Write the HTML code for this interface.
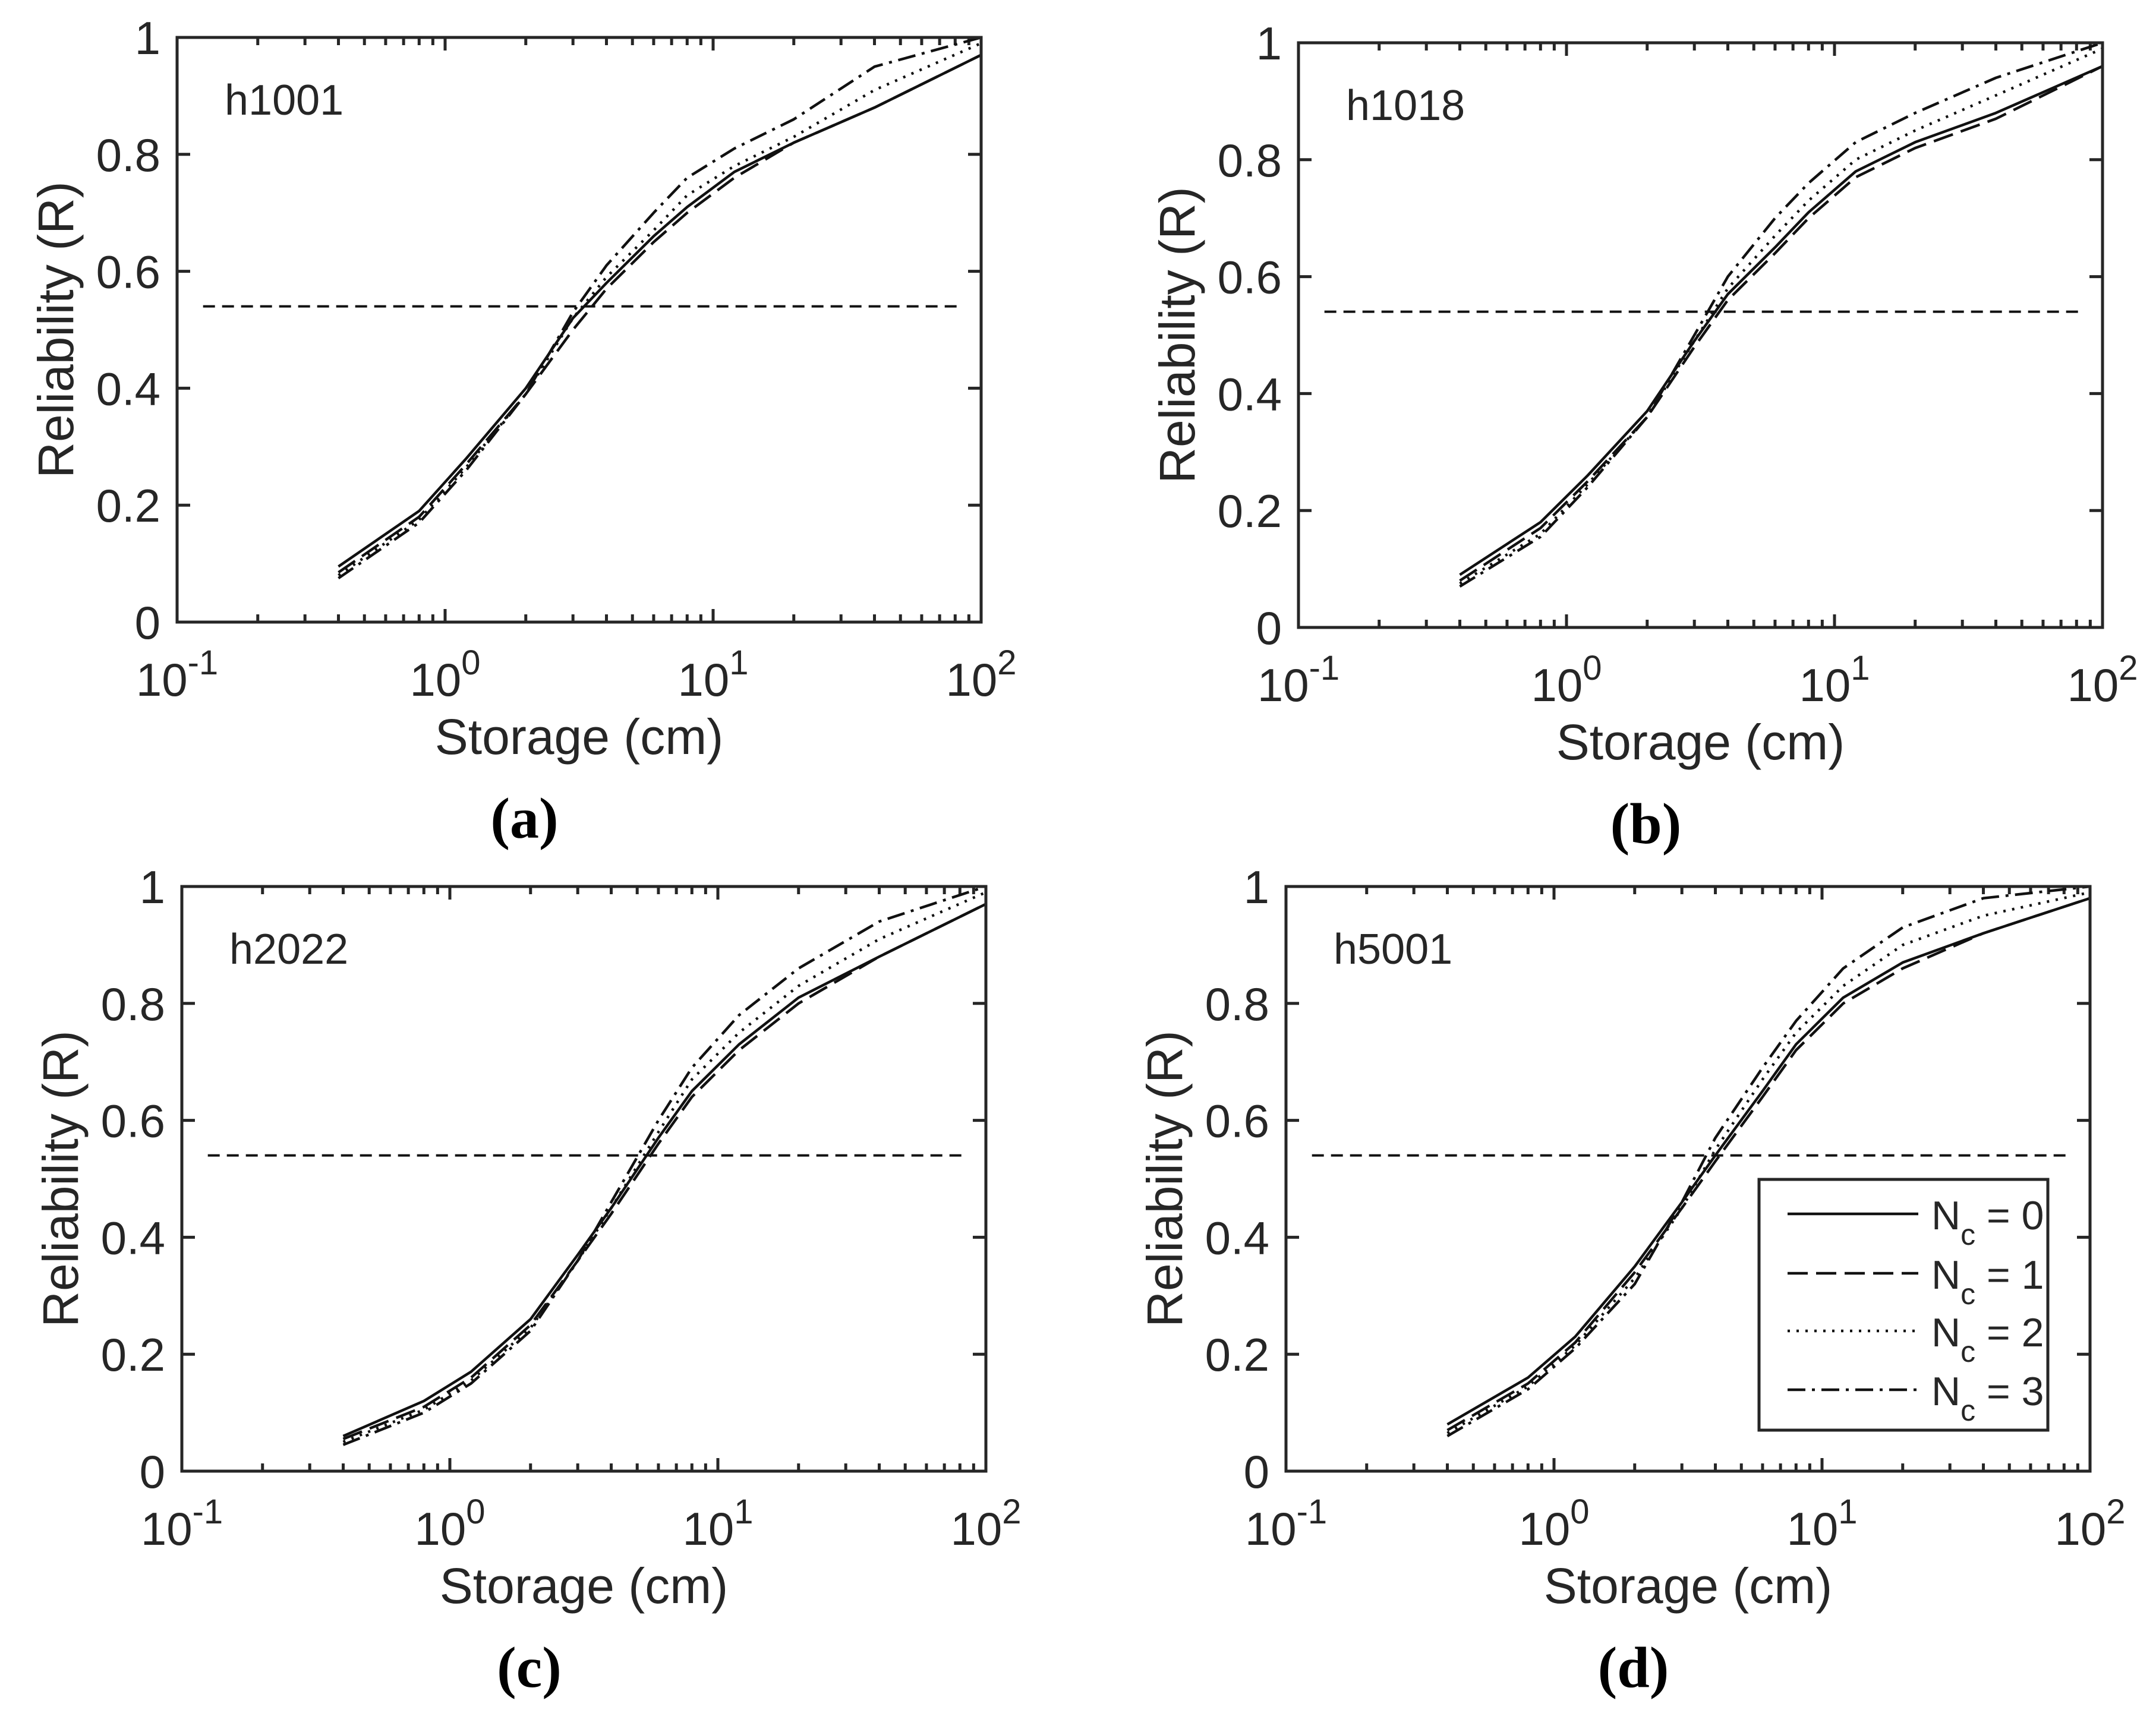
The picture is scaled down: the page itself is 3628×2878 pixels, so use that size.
<!DOCTYPE html>
<html><head><meta charset="utf-8"><style>
html,body{margin:0;padding:0;background:#fff;}
svg{display:block;}
text{font-family:"Liberation Sans",sans-serif;fill:#262626;}
</style></head>
<body>
<svg id="fig" width="3628" height="2878" viewBox="0 0 3628 2878" xmlns="http://www.w3.org/2000/svg"></svg>
<script>
const xVals = [0.4, 0.8, 1.2, 2, 3, 4, 6, 8, 12, 20, 40, 100];
const panelNames = ['h1001', 'h1018', 'h2022', 'h5001'];
const panelLetters = ['(a)', '(b)', '(c)', '(d)'];
const seriesNames = ['Nc = 0', 'Nc = 1', 'Nc = 2', 'Nc = 3'];
const yTicks = [0, 0.2, 0.4, 0.6, 0.8, 1];
const yTickLabels = ['0', '0.2', '0.4', '0.6', '0.8', '1'];
const xTickExps = [-1, 0, 1, 2];
const threshold = 0.54;
const thresholdRange = [0.125, 82];
// panel a
const aNc0 = [0.095, 0.19, 0.28, 0.40, 0.52, 0.58, 0.66, 0.71, 0.77, 0.82, 0.88, 0.97];
const aNc1 = [0.085, 0.18, 0.27, 0.39, 0.50, 0.57, 0.65, 0.70, 0.76, 0.82, 0.88, 0.97];
const aNc2 = [0.08, 0.175, 0.265, 0.39, 0.52, 0.59, 0.67, 0.73, 0.78, 0.83, 0.91, 0.99];
const aNc3 = [0.075, 0.17, 0.26, 0.39, 0.53, 0.61, 0.70, 0.76, 0.81, 0.86, 0.95, 1.0];
// panel b
const bNc0 = [0.09, 0.18, 0.26, 0.37, 0.49, 0.57, 0.65, 0.71, 0.78, 0.83, 0.88, 0.96];
const bNc1 = [0.08, 0.17, 0.25, 0.36, 0.48, 0.56, 0.64, 0.70, 0.77, 0.82, 0.87, 0.96];
const bNc2 = [0.075, 0.16, 0.245, 0.36, 0.49, 0.58, 0.67, 0.73, 0.80, 0.85, 0.91, 0.99];
const bNc3 = [0.07, 0.155, 0.24, 0.36, 0.50, 0.60, 0.70, 0.76, 0.83, 0.88, 0.94, 1.0];
// panel c
const cNc0 = [0.06, 0.12, 0.17, 0.26, 0.37, 0.45, 0.57, 0.65, 0.73, 0.81, 0.88, 0.97];
const cNc1 = [0.055, 0.11, 0.16, 0.25, 0.36, 0.44, 0.56, 0.64, 0.72, 0.80, 0.88, 0.97];
const cNc2 = [0.05, 0.105, 0.155, 0.245, 0.36, 0.45, 0.58, 0.67, 0.75, 0.83, 0.91, 0.99];
const cNc3 = [0.045, 0.10, 0.15, 0.24, 0.36, 0.46, 0.60, 0.69, 0.78, 0.86, 0.94, 1.0];
// panel d
const dNc0 = [0.08, 0.16, 0.23, 0.35, 0.46, 0.54, 0.65, 0.73, 0.81, 0.87, 0.92, 0.98];
const dNc1 = [0.07, 0.15, 0.22, 0.34, 0.45, 0.53, 0.64, 0.72, 0.80, 0.86, 0.92, 0.98];
const dNc2 = [0.065, 0.145, 0.215, 0.33, 0.45, 0.55, 0.67, 0.75, 0.83, 0.90, 0.95, 0.99];
const dNc3 = [0.06, 0.14, 0.21, 0.32, 0.46, 0.57, 0.69, 0.77, 0.86, 0.93, 0.98, 1.0];
const panelData = [[aNc0,aNc1,aNc2,aNc3],[bNc0,bNc1,bNc2,bNc3],[cNc0,cNc1,cNc2,cNc3],[dNc0,dNc1,dNc2,dNc3]];

const NS = 'http://www.w3.org/2000/svg';
const svg = document.getElementById('fig');
const boxes = [[298,63,1353,984],[2185,72,1353,984],[306,1492,1353,984],[2164,1492,1353,984]];
const dashes = ['none', '34 14', '4 11', '30 11 5 11'];

function mk(tag, attrs, parent) {
  const e = document.createElementNS(NS, tag);
  for (const k in attrs) e.setAttribute(k, attrs[k]);
  (parent || svg).appendChild(e);
  return e;
}

panelData.forEach((series, p) => {
  const [L, T, W, H] = boxes[p];
  const sx = v => L + (Math.log10(v) + 1) / 3 * W;
  const sy = v => T + H - v * H;
  const g = mk('g', {});
  
  

  for (let d = -1; d <= 1; d++) {
    for (let m = 1; m <= 9; m++) {
      const v = m * Math.pow(10, d);
      if (v <= 0.1 || v >= 100) continue;
      const x = sx(v);
      const len = m === 1 ? 22 : 13;
      mk('line', {x1:x, y1:T+H, x2:x, y2:T+H-len, stroke:'#262626','stroke-width':5}, g);
      mk('line', {x1:x, y1:T, x2:x, y2:T+len, stroke:'#262626','stroke-width':5}, g);
    }
  }
  yTicks.forEach((v, i) => {
    const y = sy(v);
    mk('line', {x1:L, y1:y, x2:L+22, y2:y, stroke:'#262626','stroke-width':5}, g);
    mk('line', {x1:L+W, y1:y, x2:L+W-22, y2:y, stroke:'#262626','stroke-width':5}, g);
    const t = mk('text', {x:L-28, y:y+28, 'text-anchor':'end', 'font-size':78}, g);
    t.textContent = yTickLabels[i];
    
    
  });
  xTickExps.forEach(e => {
    const x = sx(Math.pow(10, e));
    const t = mk('text', {x:x, y:T+H+124, 'text-anchor':'middle', 'font-size':78}, g);
    
    
    const a = mk('tspan', {}, t); a.textContent = '10';
    const b = mk('tspan', {dy:-36, 'font-size':58}, t); b.textContent = String(e);
  });

  const th = mk('line', {x1:sx(thresholdRange[0]), y1:sy(threshold), x2:sx(thresholdRange[1]), y2:sy(threshold), stroke:'#111','stroke-width':4,'stroke-dasharray':'20 12'}, g);
  
  

  series.forEach((vals, s) => {
    const pts = xVals.map((x, i) => sx(x).toFixed(1) + ',' + sy(vals[i]).toFixed(1)).join(' ');
    const pl = mk('polyline', {points:pts, fill:'none', stroke:'#111', 'stroke-width':4.5, 'stroke-linejoin':'round'}, g);
    if (dashes[s] !== 'none') pl.setAttribute('stroke-dasharray', dashes[s]);
    
    
  });

  const fr = mk('rect', {x:L, y:T, width:W, height:H, fill:'none', stroke:'#262626', 'stroke-width':5}, g);
  
  

  const nm = mk('text', {x:L+80, y:T+130, 'font-size':72, fill:'#111'}, g);
  nm.textContent = panelNames[p];
  
  

  const xt = mk('text', {x:L+W/2, y:T+H+222, 'text-anchor':'middle', 'font-size':84}, g);
  xt.textContent = 'Storage (cm)';
  
  

  const yx = L - 175, yy = T + H/2;
  const yt = mk('text', {x:yx, y:yy, 'text-anchor':'middle', 'font-size':84, transform:'rotate(-90 '+yx+' '+yy+')'}, g);
  yt.textContent = 'Reliability (R)';
  
  

  const pl = mk('text', {x:L+W/2-92, y:T+H+363, 'text-anchor':'middle', 'font-size':98, 'font-weight':'bold'}, g);
  pl.setAttribute('style', 'font-family:"Liberation Serif",serif;fill:#000');
  pl.textContent = panelLetters[p];
  
  
});

const lg = mk('g', {});


mk('rect', {x:2960, y:1985, width:486, height:422, fill:'#fff', stroke:'#262626', 'stroke-width':5}, lg);
const legY = [2043, 2143, 2240, 2339];
seriesNames.forEach((n, s) => {
  const y = legY[s];
  const ln = mk('line', {x1:3008, y1:y, x2:3228, y2:y, stroke:'#111', 'stroke-width':4.5}, lg);
  if (dashes[s] !== 'none') ln.setAttribute('stroke-dasharray', dashes[s]);
  
  
  const t = mk('text', {x:3250, y:y+26, 'font-size':68}, lg);
  
  
  const a = mk('tspan', {}, t); a.textContent = 'N';
  const b = mk('tspan', {dy:26, 'font-size':50}, t); b.textContent = 'c';
  const c = mk('tspan', {dy:-26}, t); c.textContent = ' = ' + s;
});
</script>
</body></html>
